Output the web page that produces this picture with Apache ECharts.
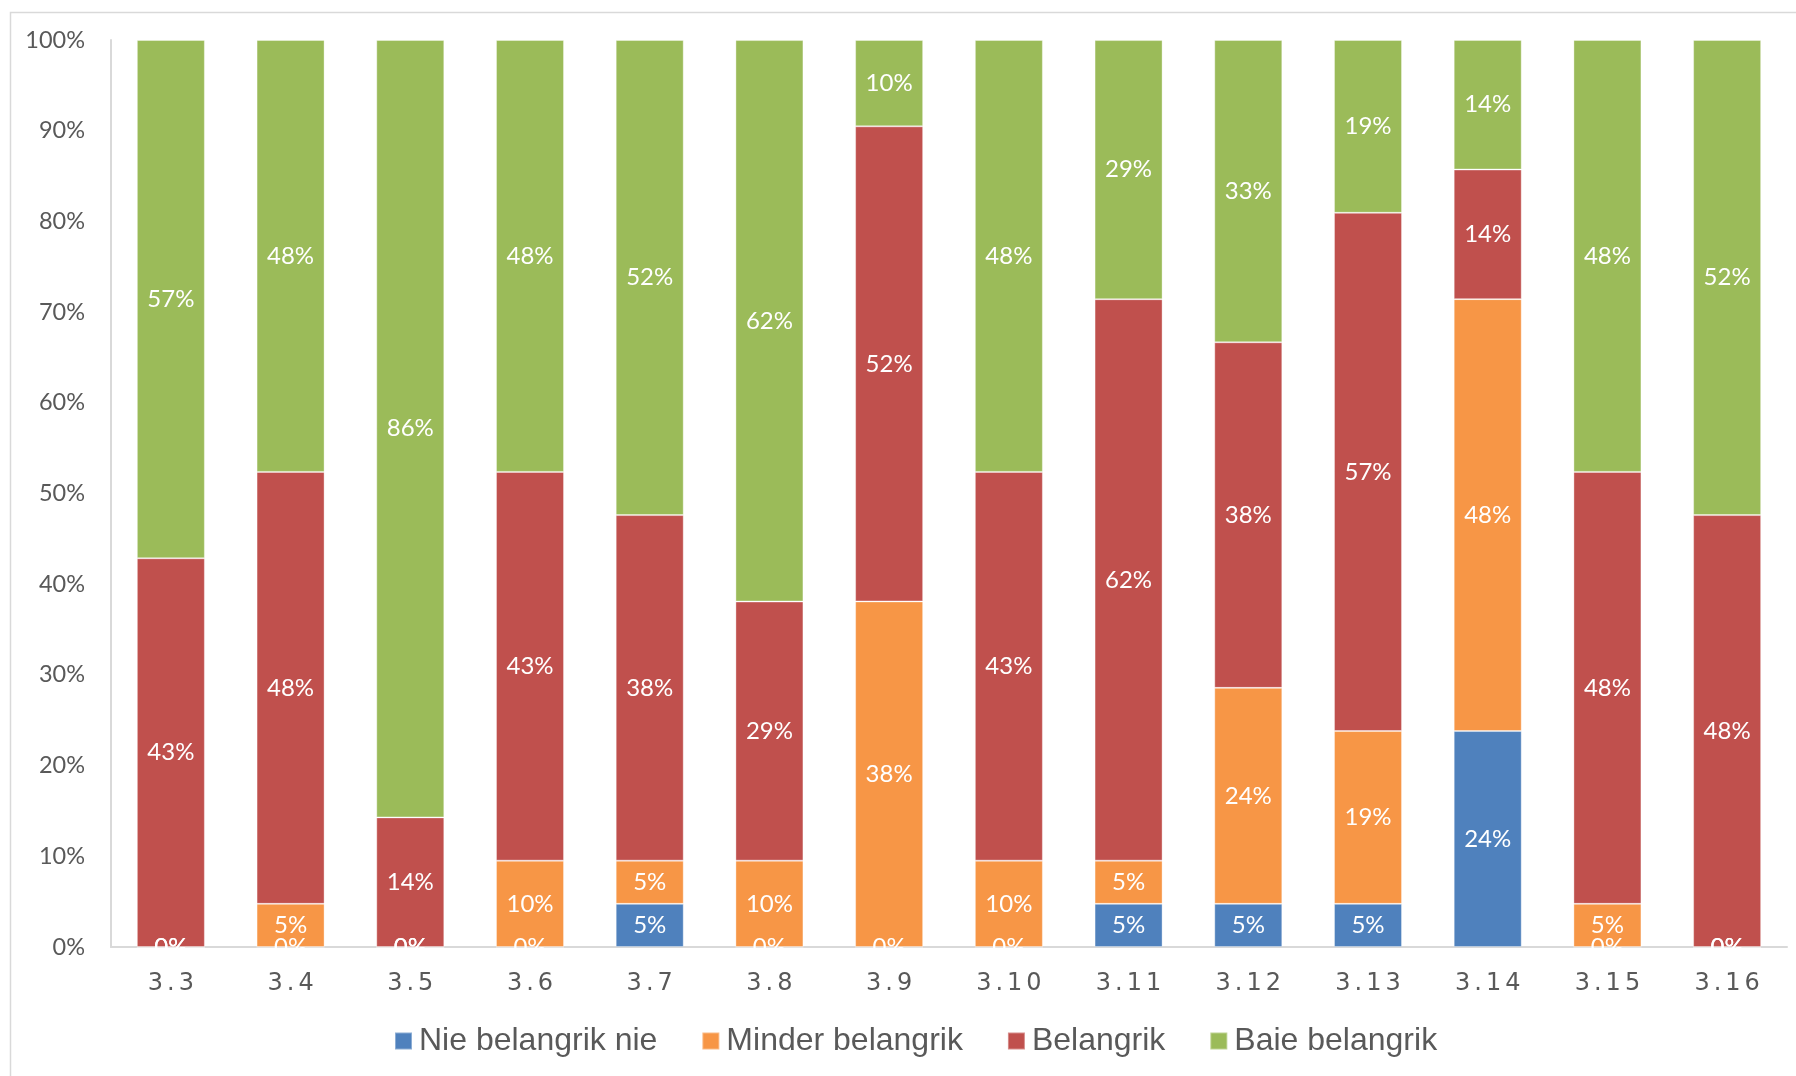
<!DOCTYPE html>
<html>
<head>
<meta charset="utf-8">
<script src="https://cdn.jsdelivr.net/npm/echarts@6/dist/echarts.min.js"></script>
<style>
  html, body { margin: 0; padding: 0; background: #ffffff; }
  #chart { width: 1796px; height: 1076px; }
</style>
</head>
<body>
<div id="chart"></div>
<script>
// Survey items on the x axis
const categories = ['3.3', '3.4', '3.5', '3.6', '3.7', '3.8', '3.9', '3.10', '3.11', '3.12', '3.13', '3.14', '3.15', '3.16'];

// Share of responses per rating (percent of all respondents)
const nieBelangrikNie = [0, 0, 0, 0, 4.76, 0, 0, 0, 4.76, 4.76, 4.76, 23.81, 0, 0];
const minderBelangrik = [0, 4.76, 0, 9.52, 4.76, 9.52, 38.10, 9.52, 4.76, 23.81, 19.05, 47.62, 4.76, 0];
const belangrik       = [42.86, 47.62, 14.29, 42.86, 38.10, 28.57, 52.38, 42.86, 61.90, 38.10, 57.14, 14.29, 47.62, 47.62];
const baieBelangrik   = [57.14, 47.62, 85.71, 47.62, 52.38, 61.90, 9.52, 47.62, 28.57, 33.33, 19.05, 14.29, 47.62, 52.38];

const seriesNames = ['Nie belangrik nie', 'Minder belangrik', 'Belangrik', 'Baie belangrik'];
const seriesColors = ['#4f81bd', '#f79646', '#c0504d', '#9bbb59'];
const seriesData = [nieBelangrikNie, minderBelangrik, belangrik, baieBelangrik];

const chart = echarts.init(document.getElementById('chart'), null, { renderer: 'canvas' });

const GRID = { left: 111, right: 9, top: 40, bottom: 129 };

const series = seriesNames.map((name, i) => ({
  name: name,
  type: 'bar',
  stack: 'total',
  barWidth: 68,
  data: seriesData[i],
  itemStyle: {
    color: seriesColors[i],
    borderColor: 'rgba(255,255,255,0.35)',
    borderWidth: 1
  },
  label: {
    show: true,
    position: 'inside',
    color: '#ffffff',
    fontFamily: 'Lato',
    fontSize: 24,
    formatter: p => Math.round(p.value) + '%'
  },
  emphasis: { disabled: true }
}));

chart.setOption({
  animation: false,
  backgroundColor: '#ffffff',
  grid: GRID,
  legend: {
    data: seriesNames,
    left: 389,
    top: 1020,
    itemWidth: 17,
    itemHeight: 17,
    itemGap: 44,
    icon: 'rect',
    textStyle: {
      fontFamily: 'Liberation Sans',
      fontSize: 32,
      color: '#595959',
      padding: [0, 0, 0, 2]
    }
  },
  xAxis: {
    type: 'category',
    data: categories,
    axisLine: { show: true, lineStyle: { color: '#d9d9d9', width: 2 } },
    axisTick: { show: false },
    axisLabel: {
      interval: 0,
      margin: 25,
      fontFamily: 'DejaVu Sans',
      fontSize: 24,
      color: '#595959',
      // widely tracked item numbers
      formatter: v => v.split('').join('\u2006')
    }
  },
  yAxis: {
    type: 'value',
    min: 0,
    max: 100,
    interval: 10,
    axisLine: { show: true, lineStyle: { color: '#d9d9d9', width: 2 } },
    axisTick: { show: false },
    splitLine: { show: false },
    axisLabel: {
      margin: 26,
      fontFamily: 'Lato',
      fontSize: 23.5,
      color: '#595959',
      formatter: '{value}%'
    }
  },
  graphic: [
    {
      type: 'rect',
      left: 8,
      top: 10,
      shape: { width: 1800, height: 1100 },
      style: { fill: 'none', stroke: '#d9d9d9', lineWidth: 1.5 },
      z: -10,
      silent: true
    },
    {
      // mask under the baseline so labels sitting on it are cut at the axis
      type: 'rect',
      left: GRID.left,
      top: 1076 - GRID.bottom + 1.5,
      shape: { width: 1796 - GRID.left - GRID.right, height: 14 },
      style: { fill: '#ffffff' },
      z: 100,
      silent: true
    }
  ],
  series: series
});
</script>
</body>
</html>
